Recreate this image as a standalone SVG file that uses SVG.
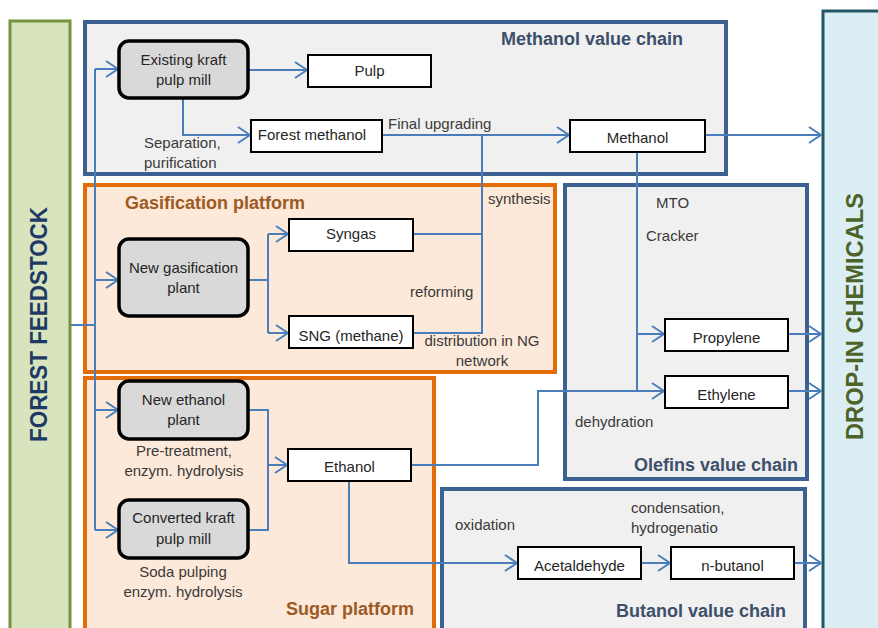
<svg xmlns="http://www.w3.org/2000/svg" width="878" height="628" viewBox="0 0 878 628">
<defs>
<marker id="arr" viewBox="0 0 14 18" refX="13" refY="9" markerWidth="14" markerHeight="18" markerUnits="userSpaceOnUse" orient="auto">
<path d="M1,1 L13,9 L1,17" fill="none" stroke="#4A7EBB" stroke-width="2"/>
</marker>
<style>
.lbl{font-family:"Liberation Sans",Arial,sans-serif;font-size:15px;fill:#3a3a3a}
.nt{font-family:"Liberation Sans",Arial,sans-serif;font-size:15px;fill:#262626;text-anchor:middle}
.proc{fill:#D9D9D9;stroke:#000;stroke-width:3.5}
.box{fill:#fff;stroke:#000;stroke-width:2}
.chainbox{fill:#F0F0F0;stroke:#3C6090;stroke-width:4}
.platbox{fill:#FDE9D9;stroke:#E36C09;stroke-width:4}
.ctitle{font-family:"Liberation Sans",Arial,sans-serif;font-size:18px;font-weight:bold;fill:#3C4F6B}
.ptitle{font-family:"Liberation Sans",Arial,sans-serif;font-size:18px;font-weight:bold;fill:#9C5A24}
.c{fill:none;stroke:#4A7EBB;stroke-width:2}
.side{font-family:"Liberation Sans",Arial,sans-serif;font-size:24px;font-weight:bold;text-anchor:middle}
</style>
</defs>

<!-- side bars -->
<g id="forest-feedstock">
<rect x="10" y="21" width="60" height="620" fill="#D7E4BD" stroke="#77933C" stroke-width="3"/>
<text class="side" transform="translate(47,324.5) rotate(-90)" textLength="235" lengthAdjust="spacingAndGlyphs" fill="#1F3864">FOREST FEEDSTOCK</text>
</g>
<g id="drop-in-chemicals">
<rect x="823" y="11" width="70" height="630" fill="#DBEEF4" stroke="#215868" stroke-width="3"/>
<text class="side" transform="translate(863,316.5) rotate(-90)" textLength="247" lengthAdjust="spacingAndGlyphs" fill="#4F6228">DROP-IN CHEMICALS</text>
</g>

<!-- containers -->
<g id="methanol-value-chain">
<rect class="chainbox" x="85" y="22" width="641" height="152"/>
<text class="ctitle" x="592" y="45" text-anchor="middle">Methanol value chain</text>
</g>
<g id="gasification-platform">
<rect class="platbox" x="85" y="185" width="470" height="187"/>
<text class="ptitle" x="125" y="209">Gasification platform</text>
</g>
<g id="sugar-platform">
<rect class="platbox" x="85" y="378" width="349" height="262"/>
<text class="ptitle" x="414" y="615" text-anchor="end">Sugar platform</text>
</g>
<g id="olefins-value-chain">
<rect class="chainbox" x="565" y="185" width="242" height="294"/>
<text class="ctitle" x="798" y="471" text-anchor="end">Olefins value chain</text>
</g>
<g id="butanol-value-chain">
<rect class="chainbox" x="442" y="489" width="363" height="150"/>
<text class="ctitle" x="786" y="617" text-anchor="end">Butanol value chain</text>
</g>

<!-- connectors -->
<g id="connectors">
<path class="c" d="M71,325 H95"/>
<path class="c" d="M95,69 V530"/>
<path class="c" d="M95,69 H118" marker-end="url(#arr)"/>
<path class="c" d="M95,280 H118" marker-end="url(#arr)"/>
<path class="c" d="M95,410 H118" marker-end="url(#arr)"/>
<path class="c" d="M95,530 H118" marker-end="url(#arr)"/>
<path class="c" d="M249,70 H307" marker-end="url(#arr)"/>
<path class="c" d="M183,99 V135 H250" marker-end="url(#arr)"/>
<path class="c" d="M382,135 H569" marker-end="url(#arr)"/>
<path class="c" d="M482,135 V333 H413"/>
<path class="c" d="M413,234 H482"/>
<path class="c" d="M705,135 H821" marker-end="url(#arr)"/>
<path class="c" d="M637,152 V391"/>
<path class="c" d="M637,334 H664" marker-end="url(#arr)"/>
<path class="c" d="M411,465 H538 V391 H664" marker-end="url(#arr)"/>
<path class="c" d="M788,334 H821" marker-end="url(#arr)"/>
<path class="c" d="M788,391 H821" marker-end="url(#arr)"/>
<path class="c" d="M249,280 H268"/>
<path class="c" d="M268,234 V333"/>
<path class="c" d="M268,234 H288" marker-end="url(#arr)"/>
<path class="c" d="M268,333 H288" marker-end="url(#arr)"/>
<path class="c" d="M249,410 H268 V530 H249"/>
<path class="c" d="M268,465 H287" marker-end="url(#arr)"/>
<path class="c" d="M349,481 V563 H517" marker-end="url(#arr)"/>
<path class="c" d="M641,563 H670" marker-end="url(#arr)"/>
<path class="c" d="M794,563 H821" marker-end="url(#arr)"/>
</g>

<!-- nodes -->
<g id="existing-kraft-pulp-mill">
<rect class="proc" x="119" y="41" width="129" height="57" rx="10"/>
<text class="nt" x="183.5" y="65">Existing kraft</text>
<text class="nt" x="183.5" y="85">pulp mill</text>
</g>
<g id="pulp">
<rect class="box" x="308" y="55" width="123" height="32"/>
<text class="nt" x="369.5" y="76">Pulp</text>
</g>
<g id="forest-methanol">
<rect class="box" x="251" y="120" width="131" height="32"/>
<text class="nt" x="312" y="140">Forest methanol</text>
</g>
<g id="methanol">
<rect class="box" x="570" y="120" width="135" height="32"/>
<text class="nt" x="637.5" y="143">Methanol</text>
</g>
<g id="new-gasification-plant">
<rect class="proc" x="119" y="239" width="129" height="77" rx="10"/>
<text class="nt" x="183.5" y="273">New gasification</text>
<text class="nt" x="183.5" y="293">plant</text>
</g>
<g id="syngas">
<rect class="box" x="289" y="219" width="124" height="32"/>
<text class="nt" x="351" y="239">Syngas</text>
</g>
<g id="sng-methane">
<rect class="box" x="289" y="316" width="124" height="32"/>
<text class="nt" x="351" y="341">SNG (methane)</text>
</g>
<g id="new-ethanol-plant">
<rect class="proc" x="119" y="381" width="129" height="58" rx="10"/>
<text class="nt" x="183.5" y="405">New ethanol</text>
<text class="nt" x="183.5" y="425">plant</text>
</g>
<g id="converted-kraft-pulp-mill">
<rect class="proc" x="119" y="500" width="129" height="58" rx="10"/>
<text class="nt" x="183.5" y="523">Converted kraft</text>
<text class="nt" x="183.5" y="544">pulp mill</text>
</g>
<g id="ethanol">
<rect class="box" x="288" y="449" width="123" height="32"/>
<text class="nt" x="349.5" y="472">Ethanol</text>
</g>
<g id="propylene">
<rect class="box" x="665" y="319" width="123" height="32"/>
<text class="nt" x="726.5" y="343">Propylene</text>
</g>
<g id="ethylene">
<rect class="box" x="665" y="376" width="123" height="32"/>
<text class="nt" x="726.5" y="400">Ethylene</text>
</g>
<g id="acetaldehyde">
<rect class="box" x="518" y="547" width="123" height="32"/>
<text class="nt" x="579.5" y="571">Acetaldehyde</text>
</g>
<g id="n-butanol">
<rect class="box" x="671" y="547" width="123" height="32"/>
<text class="nt" x="732.5" y="571">n-butanol</text>
</g>

<!-- labels -->
<g id="labels">
<text class="lbl" x="144" y="148">Separation,</text>
<text class="lbl" x="144" y="168">purification</text>
<text class="lbl" x="388" y="129">Final upgrading</text>
<text class="lbl" x="488" y="204">synthesis</text>
<text class="lbl" x="410" y="297">reforming</text>
<text class="lbl" x="482" y="346" text-anchor="middle">distribution in NG</text>
<text class="lbl" x="482" y="366" text-anchor="middle">network</text>
<text class="lbl" x="656" y="208">MTO</text>
<text class="lbl" x="646" y="241">Cracker</text>
<text class="lbl" x="575" y="427">dehydration</text>
<text class="lbl" x="184" y="456" text-anchor="middle">Pre-treatment,</text>
<text class="lbl" x="184" y="476" text-anchor="middle">enzym. hydrolysis</text>
<text class="lbl" x="183" y="577" text-anchor="middle">Soda pulping</text>
<text class="lbl" x="183" y="597" text-anchor="middle">enzym. hydrolysis</text>
<text class="lbl" x="455" y="530">oxidation</text>
<text class="lbl" x="631" y="513">condensation,</text>
<text class="lbl" x="631" y="533">hydrogenatio</text>
</g>
</svg>
